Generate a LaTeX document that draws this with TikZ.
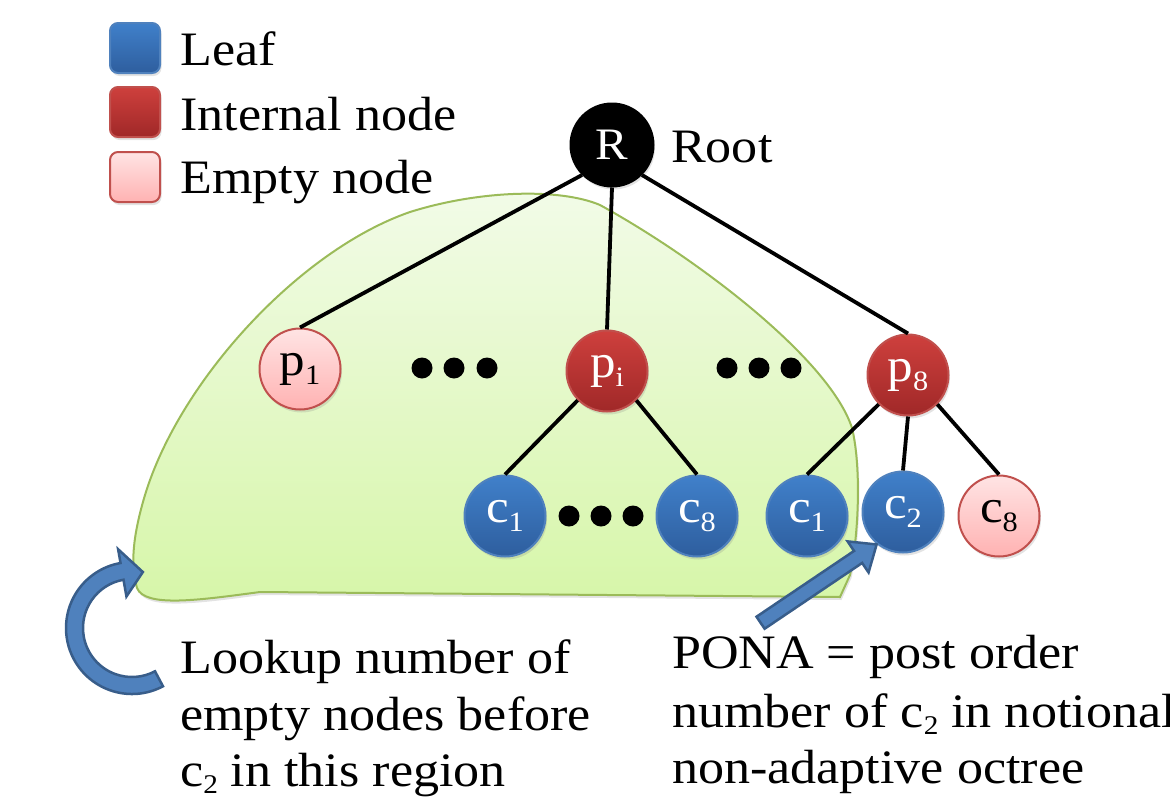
\documentclass[tikz,border=0pt]{standalone}
\usepackage{fontspec}
\setmainfont{Liberation Serif}[FakeStretch=1.085]
\usetikzlibrary{shadows,shapes.arrows}

% lowered small digit used as an index inside the tree nodes
\newcommand{\lowidx}[1]{\raisebox{-9pt}{\fontsize{28}{28}\selectfont #1}}
% lowered small digit used as an index in running text
\newcommand{\txtidx}[1]{\raisebox{-7pt}{\fontsize{27}{27}\selectfont #1}}

\definecolor{leaftop}{RGB}{64,128,202}
\definecolor{leafbot}{RGB}{46,94,158}
\definecolor{leafrim}{RGB}{79,129,189}
\definecolor{innertop}{RGB}{206,64,61}
\definecolor{innerbot}{RGB}{160,40,40}
\definecolor{innerrim}{RGB}{192,80,77}
\definecolor{emptytop}{RGB}{255,228,228}
\definecolor{emptybot}{RGB}{255,178,178}
\definecolor{emptyrim}{RGB}{192,80,77}
\definecolor{regiontop}{RGB}{242,251,232}
\definecolor{regionbot}{RGB}{214,246,168}
\definecolor{regionrim}{RGB}{155,187,89}
\definecolor{arrowfill}{RGB}{79,129,189}
\definecolor{arrowrim}{RGB}{56,93,138}

\tikzset{
  softshadow/.style={drop shadow={opacity=0.22, shadow xshift=1.5pt, shadow yshift=-3pt}},
  treenode/.style={circle, minimum size=81pt, inner sep=0pt, line width=2pt,
    font=\fontsize{47}{47}\selectfont, softshadow},
  leafnode/.style={treenode, top color=leaftop, bottom color=leafbot, draw=leafrim, text=white},
  innernode/.style={treenode, top color=innertop, bottom color=innerbot, draw=innerrim, text=white},
  emptynode/.style={treenode, top color=emptytop, bottom color=emptybot, draw=emptyrim, text=black},
  rootnode/.style={treenode, fill=black, draw=black, text=white, minimum size=83pt,
    font=\fontsize{45}{45}\selectfont},
  treeedge/.style={line width=3.8pt, black},
  dotmark/.style={circle, fill=black, minimum size=21pt, inner sep=0pt},
  legendbox/.style={rounded corners=8pt, minimum size=50pt, inner sep=0pt, line width=2pt, softshadow},
  bodytext/.style={anchor=base west, inner sep=0pt, font=\fontsize{48}{57}\selectfont},
  bigarrow/.style={fill=arrowfill, draw=arrowrim, line width=2.5pt, line join=miter},
}

\begin{document}
\begin{tikzpicture}[x=1pt, y=-1pt]
\useasboundingbox (0,0) rectangle (1170,798);
\clip (0,0) rectangle (1170,798);

% shaded lookup region
\path[top color=regiontop, bottom color=regionbot, draw=regionrim, line width=2pt, softshadow]
  (840,597) -- (850,575)
  .. controls (858,540) and (862,470) .. (852,428)
  .. controls (830,360) and (700,260) .. (600,205)
  .. controls (560,188) and (480,190) .. (410,212)
  .. controls (300,250) and (180,380) .. (145,495)
  .. controls (130,545) and (132,570) .. (137,588)
  .. controls (145,608) and (200,600) .. (260,592)
  -- cycle;

% legend
\node[legendbox, top color=leaftop, bottom color=leafbot, draw=leafrim] (lgleaf) at (135,48) {};
\node[legendbox, top color=innertop, bottom color=innerbot, draw=innerrim] (lginner) at (135,112) {};
\node[legendbox, top color=emptytop, bottom color=emptybot, draw=emptyrim] (lgempty) at (135,177) {};
\node[bodytext] (lgleaftxt) at (180,65) {Leaf};
\node[bodytext] (lginnertxt) at (180,130) {Internal node};
\node[bodytext] (lgemptytxt) at (180,193) {Empty node};

% tree nodes
\node[rootnode] (R) at (612,145) {R};
\node[bodytext] (roottxt) at (671,162) {Root};

\node[emptynode] (p1) at (300,369) {p\lowidx{1}};
\node[innernode] (pi) at (607,371) {p\lowidx{i}};
\node[innernode] (p8) at (908,375) {p\lowidx{8}};

\node[leafnode] (ca1) at (505,516) {c\lowidx{1}};
\node[leafnode] (ca8) at (697,516) {c\lowidx{8}};
\node[leafnode] (cb1) at (807,516) {c\lowidx{1}};
\node[leafnode] (cb2) at (903,512) {c\lowidx{2}};
\node[emptynode] (cb8) at (999,516) {c\lowidx{8}};

% ellipsis dots
\foreach \n/\x/\y in {a1/422/368, a2/454/368, a3/487/368,
                      b1/727/368, b2/759/368, b3/791/368,
                      c1/569/516, c2/601/516, c3/633/516}
  \node[dotmark] (dot\n) at (\x,\y) {};

% edges
\draw[treeedge] (R.south west) -- (p1.north);
\draw[treeedge] (R.south) -- (pi.north);
\draw[treeedge] (R.south east) -- (p8.north);
\draw[treeedge] (pi.south west) -- (ca1.north);
\draw[treeedge] (pi.south east) -- (ca8.north);
\draw[treeedge] (p8.south west) -- (cb1.north);
\draw[treeedge] (p8.south) -- (cb2.north);
\draw[treeedge] (p8.south east) -- (cb8.north);

% curved arrow pointing into the region
\coordinate (turn) at (132,628);
\path[bigarrow]
  ([shift={(62:66)}]turn) arc[start angle=62, end angle=260, radius=66]
  -- ([shift={(260:80)}]turn) -- ([shift={(281:57)}]turn)
  -- ([shift={(260:32)}]turn) -- ([shift={(260:49)}]turn)
  arc[start angle=260, end angle=62, radius=49] -- cycle;

% straight arrow to c2
\node[bigarrow, single arrow, rotate=34, minimum height=140pt, minimum width=35pt,
      inner sep=6pt, single arrow head extend=11.5pt, single arrow tip angle=80]
  (ponaarrow) at (815,586) {};

% captions
\node[bodytext] (lk1) at (180,673) {Lookup number of};
\node[bodytext] (lk2) at (180,730) {empty nodes before};
\node[bodytext] (lk3) at (180,786) {c\txtidx{2} in this region};

\node[bodytext] (pn1) at (672,668) {PONA = post order};
\node[bodytext] (pn2) at (672,727) {number of c\txtidx{2} in notional};
\node[bodytext] (pn3) at (672,783) {non-adaptive octree};
\end{tikzpicture}
\end{document}
